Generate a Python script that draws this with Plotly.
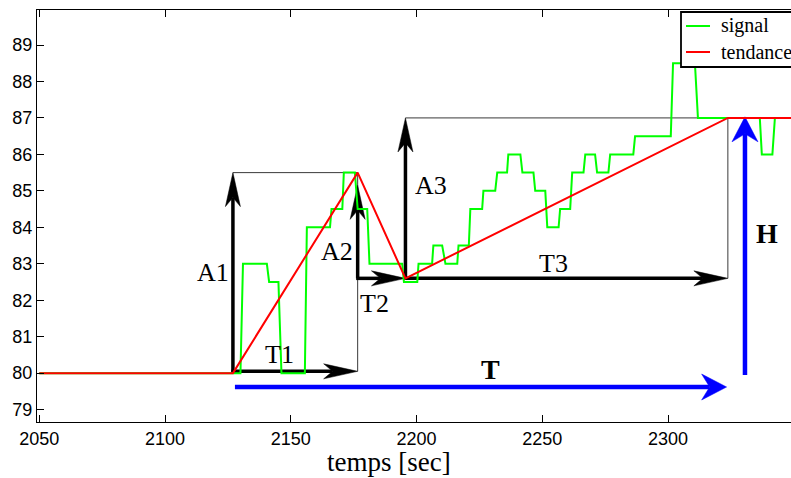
import plotly.graph_objects as go

# ---------------- data ----------------
signal_t = [2050, 2130.0, 2131.0, 2140.5, 2141.4, 2145.1, 2146.3, 2155.6, 2156.4, 2165.6, 2166.2,
            2170.5, 2171.1, 2175.5, 2176.6, 2180.4, 2181.3, 2194.3, 2195.0, 2200.3, 2200.8,
            2206.2, 2206.7, 2210.2, 2211.5, 2216.2, 2216.7, 2220.8, 2221.4, 2226.1, 2226.6,
            2231.3, 2232.1, 2236.0, 2236.5, 2241.3, 2242.1, 2246.5, 2247.2, 2251.2, 2252.0,
            2256.5, 2257.1, 2261.1, 2261.9, 2266.4, 2267.1, 2271.0, 2271.8, 2276.3, 2277.0,
            2286.2, 2286.9, 2301.1, 2302.0, 2310.7, 2311.9, 2336.5, 2337.3, 2341.5, 2342.5, 2350]
signal_v = [80, 80, 83, 83, 82.5, 82.5, 80, 80, 84, 84, 84.5,
            84.5, 85.5, 85.5, 84.5, 84.5, 83, 83, 82.5, 82.5, 83,
            83, 83.5, 83.5, 83, 83, 83.5, 83.5, 84.5, 84.5, 85,
            85, 85.5, 85.5, 86, 86, 85.5, 85.5, 85, 85, 84,
            84, 84.5, 84.5, 85.5, 85.5, 86, 86, 85.5, 85.5, 86,
            86, 86.5, 86.5, 88.5, 88.5, 87, 87, 86, 86, 87, 87]

trend_t = [2050, 2127.0, 2176.6, 2195.6, 2323.8, 2350]
trend_v = [80, 80, 85.5, 82.6, 87.0, 87.0]

# amplitude arrows (vertical) and duration arrows (horizontal)
amp_labels = ["A1", "A2", "A3"]
amp_t = [2127.0, 2176.6, 2195.6]
amp_from = [80.0, 82.6, 82.6]
amp_to = [85.5, 85.15, 87.0]

dur_labels = ["T1", "T2", "T3"]
dur_from = [2127.0, 2176.6, 2195.6]
dur_to = [2176.6, 2195.6, 2323.8]
dur_y = [80.05, 82.6, 82.6]

total_T = [2127.8, 2323.3]   # blue horizontal arrow
total_T_y = 79.62
height_H_t = 2330.6          # blue vertical arrow
height_H = [79.95, 87.03]

x_ticks = [2050, 2100, 2150, 2200, 2250, 2300]
y_ticks = [79, 80, 81, 82, 83, 84, 85, 86, 87, 88, 89]

# ---------------- layout geometry ----------------
W, H = 791, 478
PL, PT, PB = 37, 10, 422          # plot edges in window pixels
ML, MR, MT = PL, 0, PT
MB = H - PB
PW = W - ML - MR
PH = H - MT - MB
XR = [2049.1, 2049.1 + PW / 2.515]
YR = [78.66, 89.96]
px_x = PW / (XR[1] - XR[0])
px_y = PH / (YR[1] - YR[0])

SERIF = "Liberation Serif, Times New Roman, serif"
SANS = "Liberation Sans, Arial, sans-serif"

fig = go.Figure()
fig.add_trace(go.Scatter(x=signal_t, y=signal_v, mode="lines",
                         line=dict(color="#00ff00", width=2), showlegend=False))
fig.add_trace(go.Scatter(x=trend_t, y=trend_v, mode="lines",
                         line=dict(color="#ff0000", width=2), showlegend=False))

shapes = []


def line(x0, y0, x1, y1, color, width):
    shapes.append(dict(type="line", xref="x", yref="y",
                       x0=x0, y0=y0, x1=x1, y1=y1, layer="below",
                       line=dict(color=color, width=width)))


def head(tx, ty, direction, L, Wd, notch, color):
    if direction == "right":
        pts = [(0, 0), (-L, Wd / 2), (-notch, 0), (-L, -Wd / 2)]
    else:  # up
        pts = [(0, 0), (Wd / 2, -L), (0, -notch), (-Wd / 2, -L)]
    path = "M " + " L ".join(f"{a},{b}" for a, b in pts) + " Z"
    shapes.append(dict(type="path", xref="x", yref="y", xsizemode="pixel", ysizemode="pixel",
                       xanchor=tx, yanchor=ty, path=path, layer="below",
                       fillcolor=color, line=dict(color=color, width=0.5)))


# thin box outlines
BOX = "#3a3a3a"
line(amp_t[0], amp_to[0], dur_to[0], amp_to[0], BOX, 1)
line(dur_to[0], dur_y[0], dur_to[0], amp_to[0], BOX, 1)
line(amp_t[2], amp_to[2], dur_to[2], amp_to[2], BOX, 1)
line(dur_to[2], dur_y[2], dur_to[2], amp_to[2], BOX, 1)

# black arrows
BL, BW, BN = 34, 15, 25
for t, a, b in zip(amp_t, amp_from, amp_to):
    line(t, a, t, b - BN / px_y, "black", 3.5)
    head(t, b, "up", BL, BW, BN, "black")
for a, b, y in zip(dur_from, dur_to, dur_y):
    line(a - 0.6, y, b - BN / px_x, y, "black", 3.5)
    head(b, y, "right", BL, BW, BN, "black")

# blue arrows
UL, UW, UN = 25, 26, 17
line(total_T[0], total_T_y, total_T[1] - UN / px_x, total_T_y, "#0000ff", 4.5)
head(total_T[1], total_T_y, "right", UL, UW, UN, "#0000ff")
line(height_H_t, height_H[0], height_H_t, height_H[1] - UN / px_y, "#0000ff", 4.5)
head(height_H_t, height_H[1], "up", UL, UW, UN, "#0000ff")


# legend (manual, clipped by the figure edge like the reference); window pixels -> paper
def px2paper_x(p):
    return (p - PL) / PW


def px2paper_y(p):
    return (PB - p) / PH


shapes.append(dict(type="rect", xref="paper", yref="paper",
                   x0=px2paper_x(681), x1=px2paper_x(830), y0=px2paper_y(67), y1=px2paper_y(12),
                   fillcolor="white", line=dict(color="black", width=1.8), layer="above"))
legend_names = ["signal", "tendance"]
legend_colors = ["#00ff00", "#ff0000"]
legend_py = [26, 52]
annotations = []
for name, col, py in zip(legend_names, legend_colors, legend_py):
    shapes.append(dict(type="line", xref="paper", yref="paper",
                       x0=px2paper_x(686), x1=px2paper_x(710), y0=px2paper_y(py), y1=px2paper_y(py),
                       line=dict(color=col, width=2), layer="above"))
    annotations.append(dict(xref="paper", yref="paper", x=px2paper_x(719), y=px2paper_y(py),
                            xanchor="left", yanchor="middle", text=name, showarrow=False,
                            font=dict(family=SERIF, size=20, color="black")))

# arrow labels
label_pos = {"A1": (2119.0, 82.75), "A2": (2168.5, 83.35), "A3": (2205.6, 85.16),
             "T1": (2145.5, 80.5), "T2": (2183.1, 81.92), "T3": (2254.5, 83.02)}
for name in amp_labels + dur_labels:
    x, y = label_pos[name]
    annotations.append(dict(x=x, y=y, text=name, showarrow=False, xanchor="center",
                            yanchor="middle", font=dict(family=SERIF, size=26, color="black")))
annotations.append(dict(x=2229.4, y=80.1, text="<b>T</b>", showarrow=False,
                        font=dict(family=SERIF, size=28, color="black")))
annotations.append(dict(x=2339.3, y=83.84, text="<b>H</b>", showarrow=False,
                        font=dict(family=SERIF, size=28, color="black")))
annotations.append(dict(x=2188.9, xref="x", y=0, yref="paper", yshift=-40, yanchor="middle",
                        text="temps [sec]", showarrow=False,
                        font=dict(family=SERIF, size=27, color="black")))

fig.update_layout(
    width=W, height=H, margin=dict(l=ML, r=MR, t=MT, b=MB, pad=0),
    paper_bgcolor="white", plot_bgcolor="white",
    showlegend=False, shapes=shapes, annotations=annotations,
    xaxis=dict(range=XR, tickvals=x_ticks, ticks="inside", ticklen=7, tickwidth=1,
               tickcolor="black", showline=True, linecolor="black", linewidth=1.2,
               mirror="ticks", showgrid=False, zeroline=False,
               tickfont=dict(family=SANS, size=18, color="black")),
    yaxis=dict(range=YR, tickvals=y_ticks, ticks="inside", ticklen=7, tickwidth=1,
               tickcolor="black", showline=True, linecolor="black", linewidth=1.2,
               showgrid=False, zeroline=False,
               tickfont=dict(family=SANS, size=18, color="black")),
)

fig.write_html("out.html", config={"displayModeBar": False},
               post_script="document.body.style.margin='0px';document.body.style.overflow='hidden';")
